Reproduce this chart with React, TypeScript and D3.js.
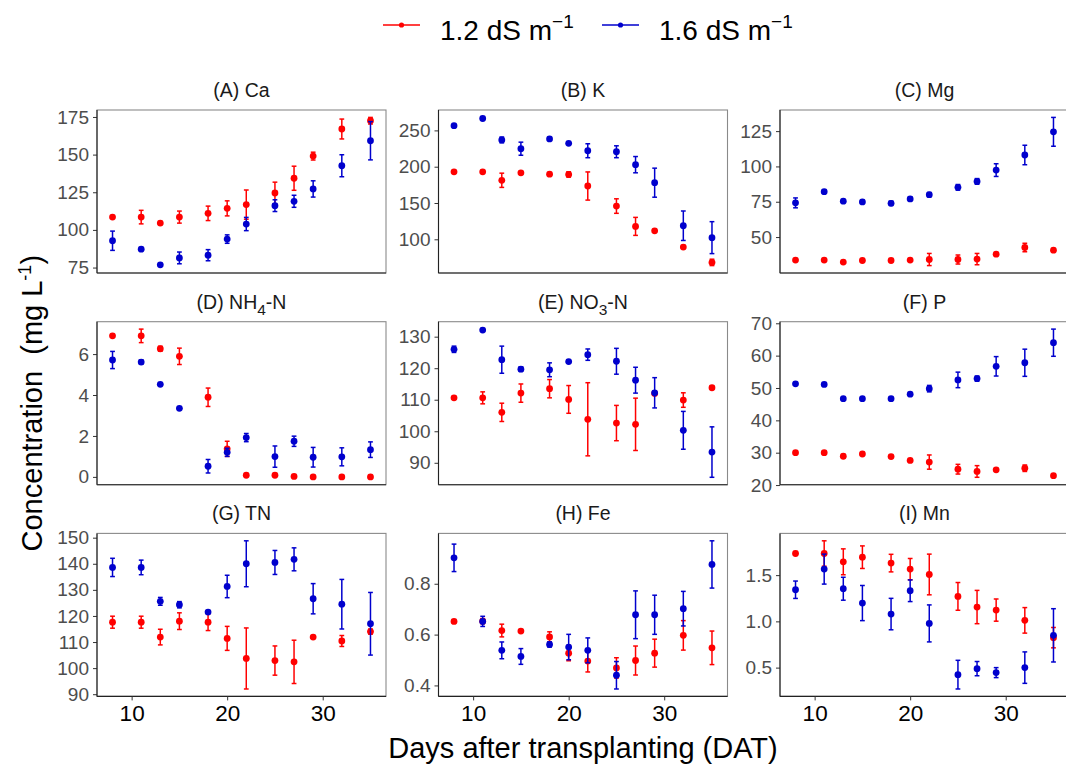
import React, { useEffect, useRef } from "react";
import * as d3 from "d3";

// sampling days (DAT)
const days = [8, 11, 13, 15, 18, 20, 22, 25, 27, 29, 32, 35];
const dayTicks = [10, 20, 30];

// 1.2 dS m-1 = "low", 1.6 dS m-1 = "high"; mean and half error bar
const caLow = [108.5, 108.5, 104.5, 108.5, 111, 114.3, 116.8, 124.5, 134.3, 149, 167, 172.5];
const caLowSe = [0.6, 4.5, 1, 4, 4.8, 5, 9.7, 7.2, 8, 2.6, 6.6, 2.2];
const caHigh = [92.8, 87.2, 76.8, 81.4, 83.2, 93.9, 103.9, 116.1, 119, 127.2, 142.6, 159.2];
const caHighSe = [6.4, 0.5, 0.5, 3.9, 3.7, 2.8, 4.4, 3.9, 4, 5.4, 7.3, 12.7];
const caTicks = [75, 100, 125, 150, 175];

const kLow = [193, 193, 181.3, 191.6, 189.7, 189.3, 173.4, 145.8, 117.8, 111.7, 89.3, 68.2];
const kLowSe = [1, 1, 9.8, 1.5, 1, 3.7, 19.4, 10, 12.4, 1, 2, 4.4];
const kHigh = [256.5, 266.4, 236.9, 224.8, 238.3, 232.2, 222, 220.6, 202.8, 178, 118.7, 102.3];
const kHighSe = [1, 1.5, 4, 9, 2, 1.5, 9.6, 8.2, 11.2, 20, 20.3, 22];
const kTicks = [100, 150, 200, 250];

const mgLow = [33.7, 33.7, 32.3, 33.4, 33.4, 33.7, 34.1, 34.1, 34.4, 37.9, 42.6, 40.7];
const mgLowSe = [0.6, 0.6, 0.6, 0.6, 0.6, 0.6, 4.3, 3.2, 4, 0.6, 3, 0.6];
const mgHigh = [74.2, 82.1, 75.4, 74.9, 73.9, 77, 80, 85.2, 89.4, 97.4, 108.1, 124.5];
const mgHighSe = [3.5, 1, 0.8, 1, 1.5, 1.2, 1.5, 2, 2, 4.5, 6.9, 10.2];
const mgTicks = [50, 75, 100, 125];

const nh4Low = [6.89, 6.89, 6.26, 5.89, 3.89, 1.37, 0.08, 0.08, 0.02, 0, 0, 0];
const nh4LowSe = [0.05, 0.33, 0.12, 0.4, 0.45, 0.37, 0.03, 0.03, 0.02, 0.02, 0.02, 0.02];
const nh4High = [5.71, 5.61, 4.52, 3.35, 0.52, 1.2, 1.92, 0.99, 1.74, 0.96, 0.98, 1.33];
const nh4HighSe = [0.42, 0.1, 0.05, 0.05, 0.33, 0.2, 0.2, 0.52, 0.25, 0.48, 0.44, 0.38];
const nh4Ticks = [0, 2, 4, 6];

const no3Low = [110.6, 110.6, 106, 112.1, 113.5, 110.1, 103.8, 102.6, 102.2, 112, 109.9, 113.8];
const no3LowSe = [0.4, 1.9, 2.9, 2.9, 2.9, 4.4, 11.6, 5.6, 8.3, 0.5, 2.3, 0.5];
const no3High = [126, 132.1, 122.7, 119.7, 119.5, 122.1, 124.3, 122.2, 116.2, 112.2, 100.3, 93.4];
const no3HighSe = [1, 0.3, 4.3, 0.7, 2.2, 0.4, 1.8, 4.1, 4.1, 4.8, 6, 8];
const no3Ticks = [90, 100, 110, 120, 130];

const pLow = [30, 30, 28.9, 29.6, 28.8, 27.6, 27.1, 24.9, 24.2, 24.7, 25.2, 22.9];
const pLowSe = [0.3, 0.3, 0.5, 0.3, 0.3, 0.3, 2.2, 1.5, 1.8, 0.3, 1, 0.5];
const pHigh = [51.3, 51.1, 46.7, 46.7, 46.7, 48.1, 49.8, 52.5, 52.9, 56.7, 57.8, 64];
const pHighSe = [0.3, 0.3, 0.3, 0.3, 0.3, 0.3, 1, 2.4, 0.8, 3, 4.2, 4.2];
const pTicks = [20, 30, 40, 50, 60, 70];

const tnLow = [117.6, 117.6, 111.9, 118, 117.6, 111.4, 103.7, 102.9, 102.4, 111.9, 110.4, 114];
const tnLowSe = [2.3, 2.3, 3, 3.2, 3.2, 4.6, 11.7, 5.6, 8.3, 0.5, 2.1, 1];
const tnHigh = [138.6, 138.6, 125.6, 124.3, 121.5, 131.3, 140, 140.5, 141.7, 126.6, 124.5, 117];
const tnHighSe = [3.5, 2.8, 1.5, 1.2, 0.5, 4.3, 8.8, 4.6, 4.4, 5.8, 9.5, 12];
const tnTicks = [90, 100, 110, 120, 130, 140, 150];

const feLow = [0.652, 0.653, 0.616, 0.614, 0.591, 0.527, 0.496, 0.469, 0.498, 0.527, 0.597, 0.548];
const feLowSe = [0.005, 0.01, 0.025, 0.005, 0.02, 0.03, 0.043, 0.04, 0.057, 0.055, 0.058, 0.066];
const feHigh = [0.902, 0.652, 0.538, 0.514, 0.561, 0.551, 0.538, 0.44, 0.678, 0.678, 0.702, 0.876];
const feHighSe = [0.054, 0.02, 0.033, 0.031, 0.01, 0.05, 0.049, 0.054, 0.094, 0.077, 0.068, 0.093];
const feTicks = [0.4, 0.6, 0.8];

const mnLow = [1.734, 1.734, 1.644, 1.694, 1.63, 1.565, 1.507, 1.27, 1.155, 1.122, 1.011, 0.824];
const mnLowSe = [0.02, 0.137, 0.14, 0.122, 0.095, 0.115, 0.22, 0.15, 0.18, 0.12, 0.138, 0.11];
const mnHigh = [1.342, 1.565, 1.353, 1.198, 1.079, 1.331, 0.978, 0.424, 0.489, 0.446, 0.5, 0.849];
const mnHighSe = [0.094, 0.162, 0.124, 0.19, 0.17, 0.117, 0.2, 0.155, 0.077, 0.054, 0.17, 0.288];
const mnTicks = [0.5, 1.0, 1.5];

// title pieces: [text, subscript, text]
const panels = [
  { title: ["(A) Ca", "", ""], low: caLow, lowSe: caLowSe, high: caHigh, highSe: caHighSe, ticks: caTicks, fmt: "d" },
  { title: ["(B) K", "", ""], low: kLow, lowSe: kLowSe, high: kHigh, highSe: kHighSe, ticks: kTicks, fmt: "d" },
  { title: ["(C) Mg", "", ""], low: mgLow, lowSe: mgLowSe, high: mgHigh, highSe: mgHighSe, ticks: mgTicks, fmt: "d" },
  { title: ["(D) NH", "4", "-N"], low: nh4Low, lowSe: nh4LowSe, high: nh4High, highSe: nh4HighSe, ticks: nh4Ticks, fmt: "d" },
  { title: ["(E) NO", "3", "-N"], low: no3Low, lowSe: no3LowSe, high: no3High, highSe: no3HighSe, ticks: no3Ticks, fmt: "d" },
  { title: ["(F) P", "", ""], low: pLow, lowSe: pLowSe, high: pHigh, highSe: pHighSe, ticks: pTicks, fmt: "d" },
  { title: ["(G) TN", "", ""], low: tnLow, lowSe: tnLowSe, high: tnHigh, highSe: tnHighSe, ticks: tnTicks, fmt: "d" },
  { title: ["(H) Fe", "", ""], low: feLow, lowSe: feLowSe, high: feHigh, highSe: feHighSe, ticks: feTicks, fmt: ".1f" },
  { title: ["(I) Mn", "", ""], low: mnLow, lowSe: mnLowSe, high: mnHigh, highSe: mnHighSe, ticks: mnTicks, fmt: ".1f" },
];

const RED = "#ff0000";
const BLUE = "#0000cd";
const FONT = "Liberation Sans, Arial, sans-serif";

const W = 1066;
const H = 766;
const left0 = 97;
const colStep = 341.5;
const panelW = 289;
const top0 = 110;
const rowStep = 211.7;
const panelH = 163;
const barHalf = 0.25; // errorbar half width in days

export default function App() {
  const ref = useRef<SVGSVGElement>(null);

  useEffect(() => {
    const svg = d3.select(ref.current);
    svg.selectAll("*").remove();
    svg.style("font-family", FONT);

    // x domain like ggplot: data range + errorbar width, expanded 5%
    const xlo = d3.min(days)! - barHalf;
    const xhi = d3.max(days)! + barHalf;
    const xpad = (xhi - xlo) * 0.05;
    const x = d3.scaleLinear().domain([xlo - xpad, xhi + xpad]).range([0, panelW]);
    const capW = x(barHalf) - x(0);

    panels.forEach((p, i) => {
      const col = i % 3;
      const row = Math.floor(i / 3);
      const g = svg
        .append("g")
        .attr("transform", `translate(${left0 + col * colStep}, ${top0 + row * rowStep})`);

      const lows = p.low.map((m, j) => m - p.lowSe[j]).concat(p.high.map((m, j) => m - p.highSe[j]));
      const highs = p.low.map((m, j) => m + p.lowSe[j]).concat(p.high.map((m, j) => m + p.highSe[j]));
      const ylo = d3.min(lows)!;
      const yhi = d3.max(highs)!;
      const ypad = (yhi - ylo) * 0.05;
      const y = d3.scaleLinear().domain([ylo - ypad, yhi + ypad]).range([panelH, 0]);

      // panel border
      g.append("rect")
        .attr("width", panelW)
        .attr("height", panelH)
        .attr("fill", "white")
        .attr("stroke", "#8a8a8a")
        .attr("stroke-width", 1.1);

      // title
      const t = g
        .append("text")
        .attr("x", panelW / 2)
        .attr("y", -13)
        .attr("text-anchor", "middle")
        .attr("font-size", 19.5)
        .attr("fill", "#1a1a1a")
        .text(p.title[0]);
      if (p.title[1]) {
        t.append("tspan").attr("dy", 6).attr("font-size", 15.5).text(p.title[1]);
        t.append("tspan").attr("dy", -6).text(p.title[2]);
      }

      // y axis
      const yAxis = g
        .append("g")
        .call(
          d3.axisLeft(y)
            .tickValues(p.ticks)
            .tickSize(4)
            .tickPadding(4)
            .tickFormat(d3.format(p.fmt) as any)
        );
      yAxis.attr("font-family", FONT).attr("font-size", 19);
      yAxis.select(".domain").remove();
      yAxis.selectAll("line").attr("stroke", "#333");
      yAxis.selectAll("text").attr("fill", "#4d4d4d");
      g.append("line")
        .attr("x1", 0).attr("x2", 0)
        .attr("y1", 0).attr("y2", panelH)
        .attr("stroke", "#222").attr("stroke-width", 1.1);
      g.append("line")
        .attr("x1", 0).attr("x2", panelW)
        .attr("y1", panelH).attr("y2", panelH)
        .attr("stroke", "#222").attr("stroke-width", 1.1);

      // x axis only on bottom row
      if (row === 2) {
        const xAxis = g
          .append("g")
          .attr("transform", `translate(0, ${panelH})`)
          .call(d3.axisBottom(x).tickValues(dayTicks).tickSize(4).tickPadding(5));
        xAxis.attr("font-family", FONT).attr("font-size", 22.5);
        xAxis.select(".domain").remove();
        xAxis.selectAll("line").attr("stroke", "#333");
        xAxis.selectAll("text").attr("fill", "#000");
      }

      const series = [
        { m: p.low, se: p.lowSe, color: RED },
        { m: p.high, se: p.highSe, color: BLUE },
      ];
      series.forEach((s) => {
        const pts = days.map((d, j) => ({ d, m: s.m[j], se: s.se[j] }));
        const bars = g.append("g").attr("stroke", s.color).attr("stroke-width", 1.5);
        bars.selectAll("line.v")
          .data(pts)
          .enter()
          .append("line")
          .attr("class", "v")
          .attr("x1", (d) => x(d.d))
          .attr("x2", (d) => x(d.d))
          .attr("y1", (d) => y(d.m - d.se))
          .attr("y2", (d) => y(d.m + d.se));
        bars.selectAll("line.top")
          .data(pts)
          .enter()
          .append("line")
          .attr("class", "top")
          .attr("x1", (d) => x(d.d) - capW)
          .attr("x2", (d) => x(d.d) + capW)
          .attr("y1", (d) => y(d.m + d.se))
          .attr("y2", (d) => y(d.m + d.se));
        bars.selectAll("line.bot")
          .data(pts)
          .enter()
          .append("line")
          .attr("class", "bot")
          .attr("x1", (d) => x(d.d) - capW)
          .attr("x2", (d) => x(d.d) + capW)
          .attr("y1", (d) => y(d.m - d.se))
          .attr("y2", (d) => y(d.m - d.se));
        g.append("g")
          .selectAll("circle")
          .data(pts)
          .enter()
          .append("circle")
          .attr("cx", (d) => x(d.d))
          .attr("cy", (d) => y(d.m))
          .attr("r", 3.4)
          .attr("fill", s.color);
      });
    });

    // axis titles
    svg.append("text")
      .attr("x", left0 + (2 * colStep + panelW) / 2)
      .attr("y", 758)
      .attr("text-anchor", "middle")
      .attr("font-size", 29)
      .attr("fill", "#000")
      .text("Days after transplanting (DAT)");

    const yt = svg.append("text")
      .attr("transform", `translate(42, ${top0 + (2 * rowStep + panelH) / 2}) rotate(-90)`)
      .attr("text-anchor", "middle")
      .attr("font-size", 29)
      .attr("fill", "#000")
      .style("white-space", "pre")
      .text("Concentration  (mg L");
    yt.append("tspan").attr("dy", -11).attr("font-size", 18).text("-1");
    yt.append("tspan").attr("dy", 11).text(")");

    // legend
    const legend = [
      { label: "1.2 dS m", color: RED, x0: 383 },
      { label: "1.6 dS m", color: BLUE, x0: 602 },
    ];
    legend.forEach((l) => {
      svg.append("line")
        .attr("x1", l.x0).attr("x2", l.x0 + 37)
        .attr("y1", 25).attr("y2", 25)
        .attr("stroke", l.color).attr("stroke-width", 1.5);
      svg.append("circle")
        .attr("cx", l.x0 + 18.5).attr("cy", 25).attr("r", 2.6)
        .attr("fill", l.color);
      const lt = svg.append("text")
        .attr("x", l.x0 + 57)
        .attr("y", 40)
        .attr("font-size", 28)
        .attr("fill", "#000")
        .text(l.label);
      lt.append("tspan").attr("dy", -12).attr("font-size", 19).text("\u22121");
    });
  }, []);

  return (
    <div style={{ position: "absolute", left: 0, top: 0 }}>
      <svg ref={ref} width={W} height={H} style={{ display: "block", background: "white" }} />
    </div>
  );
}
